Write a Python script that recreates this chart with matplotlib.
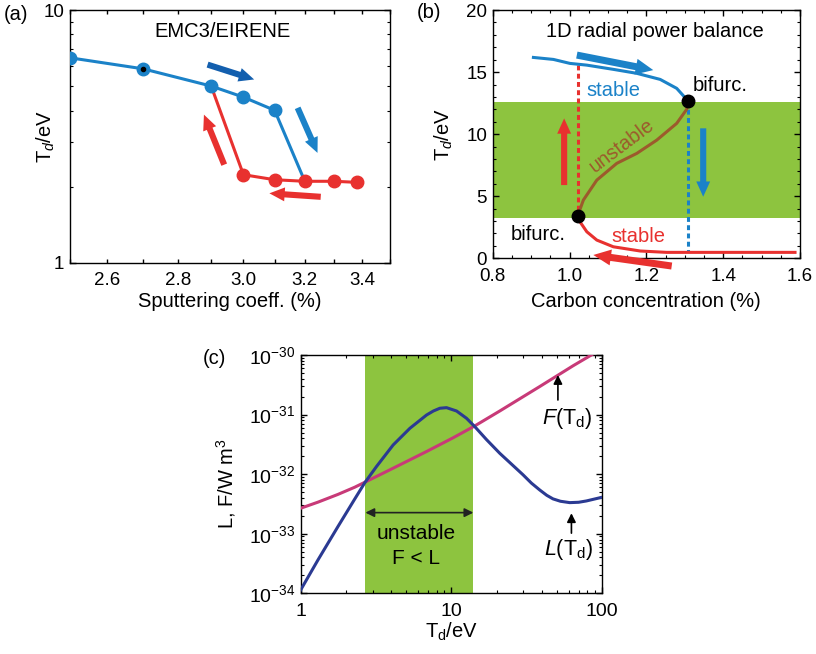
import numpy as np
import matplotlib
matplotlib.use('Agg')
import matplotlib.pyplot as plt
from matplotlib.ticker import NullLocator, MultipleLocator, FixedLocator, NullFormatter

plt.rcParams['font.family'] = ['Liberation Sans', 'DejaVu Sans']
plt.rcParams['mathtext.fontset'] = 'custom'
plt.rcParams['mathtext.rm'] = 'Liberation Sans'
plt.rcParams['mathtext.it'] = 'Liberation Sans:italic'
plt.rcParams['mathtext.bf'] = 'Liberation Sans:bold'
plt.rcParams['axes.linewidth'] = 1.0

# ---------------- data (a) EMC3/EIRENE ----------------
a_blue_x = [2.5, 2.7, 2.9, 3.0, 3.1, 3.2]
a_blue_T = [6.47, 5.85, 5.0, 4.52, 4.01, 2.10]
a_red_x = [2.9, 3.0, 3.1, 3.2, 3.3, 3.38]
a_red_T = [5.0, 2.23, 2.13, 2.10, 2.10, 2.08]
a_xticks = [2.5, 2.6, 2.7, 2.8, 2.9, 3.0, 3.1, 3.2, 3.3, 3.4, 3.5]
a_xticklabels = ['', '2.6', '', '2.8', '', '3.0', '', '3.2', '', '3.4', '']
a_yticks = [1, 10]
a_yticklabels = ['1', '10']

# ---------------- data (b) 1D radial power balance ----------------
b_upper_c = [0.906, 0.958, 1.001, 1.045, 1.114, 1.175, 1.236, 1.279, 1.309]
b_upper_T = [16.18, 16.02, 15.70, 15.56, 15.22, 14.90, 14.41, 13.69, 12.66]
b_mid_c = [1.021, 1.036, 1.071, 1.123, 1.175, 1.227, 1.279, 1.305, 1.309]
b_mid_T = [3.41, 4.69, 6.30, 7.65, 8.45, 9.52, 10.87, 12.0, 12.66]
b_lower_c = [1.021, 1.027, 1.045, 1.071, 1.114, 1.184, 1.253, 1.587]
b_lower_T = [3.41, 2.95, 2.14, 1.47, 0.93, 0.59, 0.48, 0.48]
b_bif_c = [1.021, 1.309]
b_bif_T = [3.41, 12.66]
b_band = [3.27, 12.6]

# ---------------- data (c) L and F (log10 of W m^3) ----------------
c_L_T = [1.0, 1.302, 1.767, 2.281, 2.67, 3.19, 4.11, 5.31, 6.85, 7.6, 8.39, 9.29, 10.83,
         12.61, 14.32, 17.12, 20.97, 29.9, 34.0, 38.6, 43.0, 47.3, 53.0, 61.1, 70.0,
         78.8, 100.0]
c_L_log = [-33.943, -33.440, -32.880, -32.420, -32.140, -31.870, -31.510, -31.230,
           -31.007, -30.940, -30.894, -30.884, -30.940, -31.062, -31.203, -31.420,
           -31.650, -32.010, -32.150, -32.265, -32.355, -32.415, -32.455, -32.478,
           -32.472, -32.450, -32.388]
c_F_T = [1.0, 1.302, 1.767, 2.281, 2.67, 4.11, 6.85, 10.27, 14.32, 20.97, 38.6, 64.4, 85.0, 100.0]
c_F_log = [-32.572, -32.470, -32.340, -32.220, -32.135, -31.900, -31.620, -31.390,
           -31.190, -30.940, -30.530, -30.180, -30.000, -29.890]
c_band = [2.69, 14.0]

BLUE = '#1b82c8'
DBLUE = '#135fae'
RED = '#e8312f'
BROWN = '#9c5a2c'
GREEN = '#8dc43f'
NAVY = '#2b3a92'
MAG = '#c83a78'

TXT = 14.5
TICK = 13.5

fig = plt.figure(figsize=(8.16, 6.54), dpi=100)

def style(ax, size=TICK):
    ax.tick_params(which='both', direction='in', top=True, right=True, labelsize=size)
    ax.tick_params(which='major', length=4, width=1.0)
    ax.tick_params(which='minor', length=2.5, width=0.8)
    ax.tick_params(axis='x', which='both', pad=7)
    ax.tick_params(axis='y', which='both', pad=4)

def arrow(ax, start, end, color, ms=20):
    ax.annotate('', xy=end, xytext=start,
                arrowprops=dict(arrowstyle='simple,head_width=0.5,head_length=0.55,tail_width=0.22',
                                color=color, lw=0, shrinkA=0, shrinkB=0, mutation_scale=ms),
                annotation_clip=False)

# ---------------- panel (a) ----------------
axa = fig.add_axes([0.0858, 0.5983, 0.3922, 0.3864])
axa.set_xscale('log')
axa.set_yscale('log')
axa.plot(a_blue_x, a_blue_T, color=BLUE, lw=2.2, zorder=3)
axa.plot(a_red_x, a_red_T, color=RED, lw=2.2, zorder=3)
axa.plot(a_blue_x[:-1], a_blue_T[:-1], 'o', color=BLUE, ms=9, zorder=4)
axa.plot(a_red_x[1:], a_red_T[1:], 'o', color=RED, ms=9, zorder=5)
axa.plot([a_blue_x[1]], [a_blue_T[1]], 'o', color='k', ms=3, zorder=6)
axa.set_xlim(2.5, 3.5)
axa.set_ylim(1, 10)
axa.xaxis.set_major_locator(FixedLocator(a_xticks))
axa.xaxis.set_minor_locator(NullLocator())
axa.set_xticklabels(a_xticklabels)
axa.set_yticks(a_yticks)
axa.set_yticklabels(a_yticklabels)
axa.yaxis.set_minor_formatter(NullFormatter())
style(axa)
axa.tick_params(axis='x', which='major', length=3)
arrow(axa, (2.889, 6.08), (3.034, 5.31), DBLUE)
arrow(axa, (3.176, 4.10), (3.243, 2.72), BLUE)
arrow(axa, (2.940, 2.443), (2.878, 3.855), RED)
arrow(axa, (3.254, 1.823), (3.083, 1.882), RED)
axa.text(0.475, 0.913, 'EMC3/EIRENE', transform=axa.transAxes, ha='center', va='center', fontsize=TXT)
axa.set_xlabel('Sputtering coeff. (%)', fontsize=TXT)
axa.xaxis.set_label_coords(0.5, -0.115)
axa.set_ylabel('T$_d$/eV', fontsize=TXT)
axa.yaxis.set_label_coords(-0.04, 0.5)
fig.text(16/816, 1-15/654, '(a)', fontsize=TXT, ha='center', va='center')

# ---------------- panel (b) ----------------
axb = fig.add_axes([0.6038, 0.605, 0.3766, 0.3797])
axb.axhspan(b_band[0], b_band[1], color=GREEN, lw=0, zorder=0)
axb.plot([b_bif_c[0], b_bif_c[0]], [15.56, b_bif_T[0]], color=RED, lw=2.2, ls=(0, (1.6, 1.1)), zorder=2)
axb.plot([b_bif_c[1], b_bif_c[1]], [b_bif_T[1], 0.53], color=BLUE, lw=2.2, ls=(0, (1.6, 1.1)), zorder=2)
axb.plot(b_upper_c, b_upper_T, color=BLUE, lw=2.2, zorder=3)
axb.plot(b_mid_c, b_mid_T, color=BROWN, lw=2.2, zorder=3)
axb.plot(b_lower_c, b_lower_T, color=RED, lw=2.2, zorder=3)
axb.plot(b_bif_c, b_bif_T, 'o', color='k', ms=9, zorder=5)
axb.set_xlim(0.8, 1.6)
axb.set_ylim(0, 20)
axb.xaxis.set_major_locator(MultipleLocator(0.2))
axb.xaxis.set_minor_locator(MultipleLocator(0.05))
axb.yaxis.set_major_locator(MultipleLocator(5))
axb.yaxis.set_minor_locator(MultipleLocator(1))
axb.set_xticklabels(['%.1f' % v for v in axb.get_xticks()])
style(axb)
arrow(axb, (1.019, 16.37), (1.218, 15.16), BLUE, ms=23)
arrow(axb, (0.986, 5.9), (0.986, 11.27), RED)
arrow(axb, (1.348, 10.47), (1.348, 4.96), BLUE)
arrow(axb, (1.266, -0.62), (1.062, 0.27), RED, ms=23)
axb.text(1.223, 18.25, '1D radial power balance', ha='center', va='center', fontsize=TXT)
axb.text(1.114, 13.55, 'stable', color=BLUE, ha='center', va='center', fontsize=TXT)
axb.text(1.392, 13.95, 'bifurc.', color='k', ha='center', va='center', fontsize=TXT)
axb.text(1.136, 9.05, 'unstable', color=BROWN, ha='center', va='center', fontsize=TXT, rotation=37)
axb.text(0.919, 1.88, 'bifurc.', color='k', ha='center', va='center', fontsize=TXT)
axb.text(1.179, 1.74, 'stable', color=RED, ha='center', va='center', fontsize=TXT)
axb.set_xlabel('Carbon concentration (%)', fontsize=TXT)
axb.xaxis.set_label_coords(0.5, -0.135)
axb.set_ylabel('T$_d$/eV', fontsize=TXT)
axb.yaxis.set_label_coords(-0.123, 0.5)
fig.text(429/816, 1-12/654, '(b)', fontsize=TXT, ha='center', va='center')

# ---------------- panel (c) ----------------
axc = fig.add_axes([0.3685, 0.0928, 0.3692, 0.3644])
axc.set_xscale('log')
axc.set_yscale('log')
axc.axvspan(c_band[0], c_band[1], color=GREEN, lw=0, zorder=0)
axc.plot(c_F_T, 10.0 ** np.array(c_F_log), color=MAG, lw=2.2, zorder=3, solid_joinstyle='round')
axc.plot(c_L_T, 10.0 ** np.array(c_L_log), color=NAVY, lw=2.2, zorder=3, solid_joinstyle='round')
axc.set_xlim(1, 100)
axc.set_ylim(1e-34, 1e-30)
style(axc, 14)
axc.annotate('', xy=(c_band[0], 2.26e-33), xytext=(c_band[1], 2.26e-33),
             arrowprops=dict(arrowstyle='<|-|>', color='#222222', lw=1.2, shrinkA=0, shrinkB=0,
                             mutation_scale=13))
axc.text(0.383, 0.252, 'unstable', transform=axc.transAxes, ha='center', va='center', fontsize=15)
axc.text(0.383, 0.147, 'F < L', transform=axc.transAxes, ha='center', va='center', fontsize=15)
axc.annotate('', xy=(51, 10 ** -30.336), xytext=(51, 10 ** -30.755),
             arrowprops=dict(arrowstyle='-|>', color='k', lw=1.2, shrinkA=0, shrinkB=0, mutation_scale=13))
axc.annotate('', xy=(62.7, 10 ** -32.656), xytext=(62.7, 10 ** -32.99),
             arrowprops=dict(arrowstyle='-|>', color='k', lw=1.2, shrinkA=0, shrinkB=0, mutation_scale=13))
axc.text(0.883, 0.735, r'$F$(T$_\mathrm{d}$)', transform=axc.transAxes, ha='center', va='center', fontsize=15.5)
axc.text(0.888, 0.182, r'$L$(T$_\mathrm{d}$)', transform=axc.transAxes, ha='center', va='center', fontsize=15.5)
axc.set_xlabel(r'T$_\mathrm{d}$/eV', fontsize=TXT)
axc.xaxis.set_label_coords(0.5, -0.115)
axc.set_ylabel(r'L, F/W m$^3$', fontsize=TXT)
axc.yaxis.set_label_coords(-0.208, 0.46)
axc.set_xticks([1, 10, 100])
axc.set_xticklabels(['1', '10', '100'])
fig.text(214/816, 1-358/654, '(c)', fontsize=TXT, ha='center', va='center')

fig.savefig('out.png', dpi=100)
